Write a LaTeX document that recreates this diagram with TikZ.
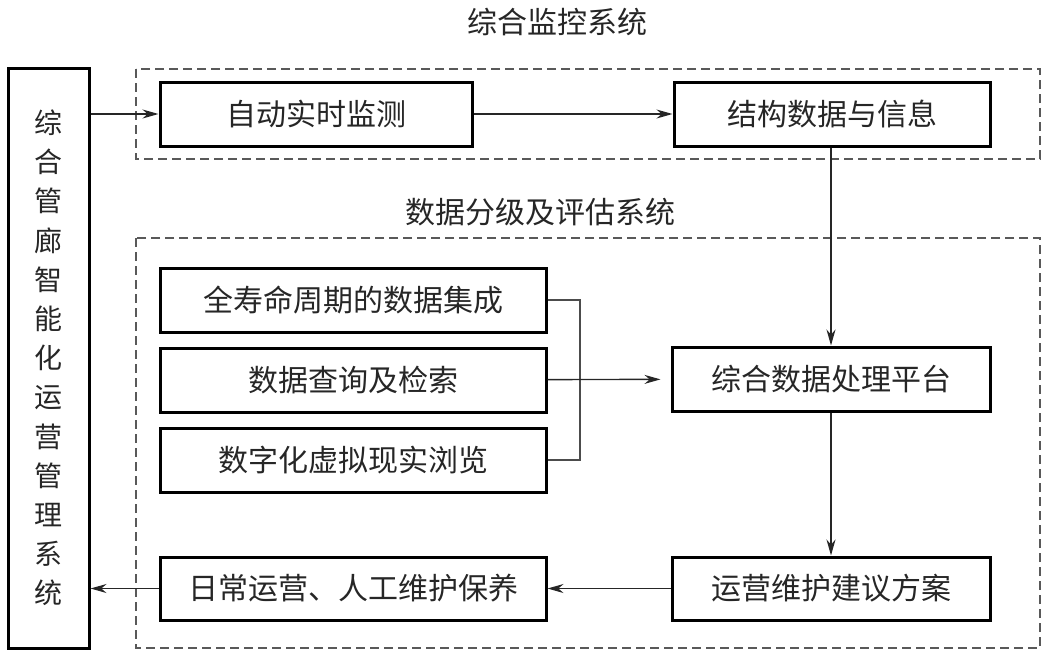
\documentclass[tikz,border=0pt]{standalone}
\usepackage{fontspec}
\setmainfont{Noto Sans CJK SC}
\usepackage{tikz}
\usetikzlibrary{arrows.meta, positioning, calc}

\begin{document}
\begin{tikzpicture}[x=1pt, y=-1pt,
  box/.style={draw=black, line width=3pt, rectangle, inner sep=0pt,
    minimum height=64pt, text=black!85, font=\fontsize{30}{30}\selectfont},
  group/.style={draw=black!65, line width=1.8pt, dash pattern=on 9pt off 5pt},
  arr/.style={draw=black!85, line width=1.4pt, -{Stealth[length=16pt, width=9pt]}},
  link/.style={draw=black!70, line width=1.4pt},
  title/.style={text=black!85, font=\fontsize{30}{30}\selectfont}]
\useasboundingbox (0,0) rectangle (1047,651);

% Group frames
\draw[group] (136,69) rectangle (1040,159);
\draw[group] (136,238) rectangle (1040,648);
\node[title] (montitle) at (557,22) {综合监控系统};
\node[title] (evaltitle) at (540,212) {数据分级及评估系统};

% Management system (left column)
\node[box, minimum width=81pt, minimum height=580pt, align=center,
  font=\fontsize{28}{39.2}\selectfont] (mgmt) at (48.5,358)
  {综\\合\\管\\廊\\智\\能\\化\\运\\营\\管\\理\\系\\统};

% Monitoring row
\node[box, minimum width=312pt] (auto) at (316,114) {自动实时监测};
\node[box, minimum width=316pt] (struct) at (832,114) {结构数据与信息};

% Data sources
\node[box, minimum width=386pt] (life) at (353,300) {全寿命周期的数据集成};
\node[box, minimum width=386pt] (query) at (353,380) {数据查询及检索};
\node[box, minimum width=386pt] (view) at (353,460) {数字化虚拟现实浏览};

% Processing and output
\node[box, minimum width=318pt] (platform) at (831,379) {综合数据处理平台};
\node[box, minimum width=318pt, minimum height=63pt] (plan) at (831,588.5) {运营维护建议方案};
\node[box, minimum width=386pt, minimum height=63pt] (daily) at (353,588.5) {日常运营、人工维护保养};

% Connections
\coordinate (join) at (580,380);
\draw[arr] (mgmt.east |- auto) -- (auto);
\draw[arr] (auto) -- (struct);
\draw[arr] (struct.south -| platform.north) -- (platform.north);
\draw[link] (life.east) -| (join) |- (view.east);
\draw[arr, shorten >=10pt] (query) -- (platform);
\draw[arr] (platform) -- (plan);
\draw[arr] (plan) -- (daily);
\draw[arr] (daily) -- (mgmt.east |- daily);
\end{tikzpicture}
\end{document}
